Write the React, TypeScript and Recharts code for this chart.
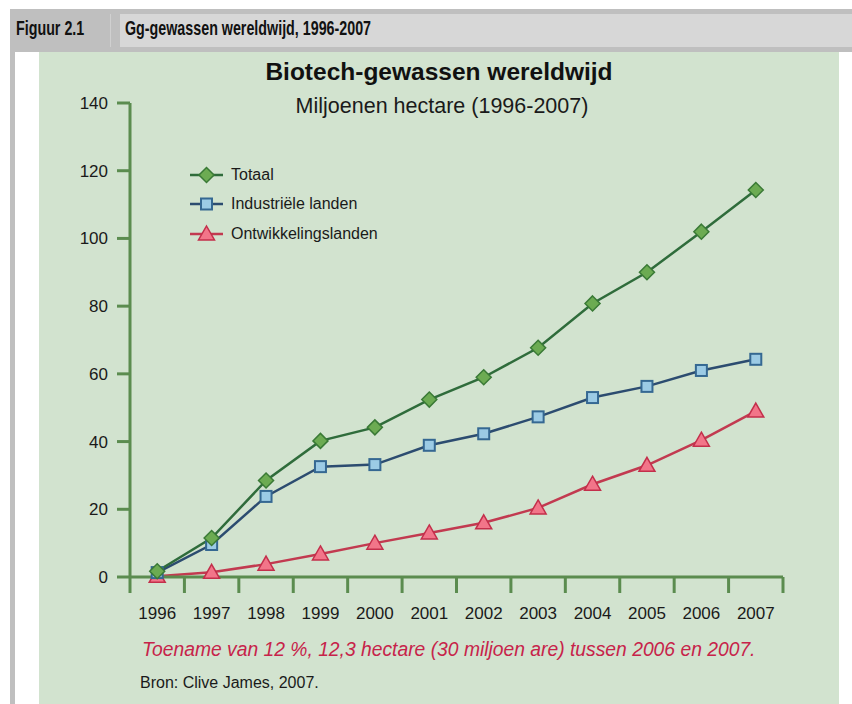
import React from "react";
import { LineChart, Line, XAxis, YAxis } from "recharts";

const years = [1996, 1997, 1998, 1999, 2000, 2001, 2002, 2003, 2004, 2005, 2006, 2007];
const totaal = [1.7, 11.5, 28.5, 40.2, 44.2, 52.4, 59.0, 67.7, 80.8, 90.0, 102.0, 114.3];
const industrieel = [1.3, 9.6, 23.8, 32.6, 33.2, 38.9, 42.3, 47.3, 53.0, 56.3, 61.0, 64.3];
const ontwikkeling = [0.2, 1.4, 3.8, 6.8, 10.0, 13.0, 16.0, 20.4, 27.4, 33.0, 40.4, 49.0];
const yTicks = [0, 20, 40, 60, 80, 100, 120, 140];

const rows = years.map((year, i) => ({
  year,
  totaal: totaal[i],
  industrieel: industrieel[i],
  ontwikkeling: ontwikkeling[i],
}));
// tick marks sit between the years
const edges = [...years.map((y) => y - 0.5), years[years.length - 1] + 0.5];

const AXIS = "#5b8c4f";
const SANS = "'Liberation Sans', Arial, sans-serif";
const BAND = 653 / 12;

const series = {
  totaal: { name: "Totaal", line: "#2f6c3b", fill: "#6cab52", stroke: "#3a7a36", shape: "diamond" },
  industrieel: { name: "Industriële landen", line: "#2c4c70", fill: "#9ccbe5", stroke: "#356892", shape: "square" },
  ontwikkeling: { name: "Ontwikkelingslanden", line: "#c23a50", fill: "#f27589", stroke: "#c32f4b", shape: "triangle" },
};

function Marker({ shape, cx, cy, fill, stroke }: any) {
  if (shape === "diamond") {
    const r = 7.5;
    return <polygon points={`${cx},${cy - r} ${cx + r},${cy} ${cx},${cy + r} ${cx - r},${cy}`} fill={fill} stroke={stroke} strokeWidth={1.5} />;
  }
  if (shape === "square") {
    return <rect x={cx - 5.5} y={cy - 5.5} width={11} height={11} fill={fill} stroke={stroke} strokeWidth={2} />;
  }
  return <polygon points={`${cx},${cy - 8} ${cx + 8},${cy + 6} ${cx - 8},${cy + 6}`} fill={fill} stroke={stroke} strokeWidth={1.5} />;
}

function dotFor(key: keyof typeof series) {
  const s = series[key];
  return (p: any) => (
    <g key={`${key}-${p.index}`}>
      <Marker shape={s.shape} cx={p.cx} cy={p.cy} fill={s.fill} stroke={s.stroke} />
    </g>
  );
}

function XTick({ x, y, payload }: any) {
  const v = payload.value;
  if (v > years[years.length - 1]) return <g />;
  return (
    <text x={x + BAND / 2} y={y + 24} textAnchor="middle" fontSize={17} fill="#1a1a1a" fontFamily={SANS}>
      {String(Math.round(v + 0.5))}
    </text>
  );
}

function LegendBox() {
  return (
    <div style={{ position: "absolute", left: 189, top: 160, fontFamily: SANS, fontSize: 16, color: "#1a1a1a" }}>
      {(Object.keys(series) as (keyof typeof series)[]).map((k) => {
        const s = series[k];
        return (
          <div key={k} style={{ display: "flex", alignItems: "center", height: 29.5 }}>
            <svg width={36} height={20} style={{ marginRight: 6 }}>
              <line x1={1} y1={10} x2={34} y2={10} stroke={s.line} strokeWidth={2.5} />
              <Marker shape={s.shape} cx={17.5} cy={10} fill={s.fill} stroke={s.stroke} />
            </svg>
            <span>{s.name}</span>
          </div>
        );
      })}
    </div>
  );
}

export default function App() {
  return (
    <div style={{ position: "absolute", left: 0, top: 0, width: 852, height: 704, background: "#fff", overflow: "hidden" }}>
      {/* frame and header */}
      <div style={{ position: "absolute", left: 10, top: 9, width: 842, height: 43, background: "#bfbfbf" }} />
      <div style={{ position: "absolute", left: 10, top: 52, width: 5, height: 652, background: "#bfbfbf" }} />
      <div style={{ position: "absolute", left: 110, top: 14, width: 1, height: 33, background: "#d0d0d0" }} />
      <div style={{ position: "absolute", left: 120, top: 14, width: 732, height: 33, background: "#d7d7d7" }} />
      <div style={{ position: "absolute", left: 39, top: 52, width: 800, height: 652, background: "#d2e3cf" }} />
      <div style={{ position: "absolute", left: 16, top: 16, fontFamily: SANS, fontWeight: 700, fontSize: 21, color: "#111", transform: "scaleX(0.68)", transformOrigin: "left top", whiteSpace: "nowrap" }}>
        Figuur 2.1
      </div>
      <div style={{ position: "absolute", left: 125, top: 16, fontFamily: SANS, fontWeight: 700, fontSize: 21, color: "#111", transform: "scaleX(0.68)", transformOrigin: "left top", whiteSpace: "nowrap" }}>
        Gg-gewassen wereldwijd, 1996-2007
      </div>

      {/* titles */}
      <div style={{ position: "absolute", left: 39, width: 800, top: 58, textAlign: "center", fontFamily: SANS, fontWeight: 700, fontSize: 24.5, color: "#111" }}>
        Biotech-gewassen wereldwijd
      </div>
      <div style={{ position: "absolute", left: 39, width: 806, top: 94, textAlign: "center", fontFamily: SANS, fontSize: 21.5, color: "#1a1a1a" }}>
        Miljoenen hectare (1996-2007)
      </div>

      <div style={{ position: "absolute", left: 0, top: 0 }}>
        <LineChart width={852} height={704} data={rows} margin={{ top: 103, right: 69, left: 0, bottom: 0 }}>
          <XAxis
            dataKey="year"
            type="number"
            domain={[edges[0], edges[edges.length - 1]]}
            ticks={edges}
            interval={0}
            height={127}
            tickSize={16}
            tickMargin={2}
            axisLine={{ stroke: AXIS, strokeWidth: 3 }}
            tickLine={{ stroke: AXIS, strokeWidth: 3 }}
            tick={<XTick />}
          />
          <YAxis
            type="number"
            domain={[0, 140]}
            ticks={yTicks}
            interval={0}
            width={130}
            tickSize={13}
            tickMargin={9}
            axisLine={{ stroke: AXIS, strokeWidth: 3 }}
            tickLine={{ stroke: AXIS, strokeWidth: 3 }}
            tick={{ fontSize: 17, fill: "#1a1a1a", fontFamily: SANS }}
          />
          <Line dataKey="ontwikkeling" name={series.ontwikkeling.name} stroke={series.ontwikkeling.line} strokeWidth={2.5} dot={dotFor("ontwikkeling")} isAnimationActive={false} />
          <Line dataKey="industrieel" name={series.industrieel.name} stroke={series.industrieel.line} strokeWidth={2.5} dot={dotFor("industrieel")} isAnimationActive={false} />
          <Line dataKey="totaal" name={series.totaal.name} stroke={series.totaal.line} strokeWidth={2.5} dot={dotFor("totaal")} isAnimationActive={false} />
        </LineChart>
      </div>

      <LegendBox />

      {/* notes */}
      <div style={{ position: "absolute", left: 142, top: 639, fontFamily: SANS, fontStyle: "italic", fontSize: 19.3, color: "#c7234a", whiteSpace: "nowrap" }}>
        Toename van 12 %, 12,3 hectare (30 miljoen are) tussen 2006 en 2007.
      </div>
      <div style={{ position: "absolute", left: 140, top: 674, fontFamily: SANS, fontSize: 16, color: "#1a1a1a", whiteSpace: "nowrap" }}>
        Bron: Clive James, 2007.
      </div>
    </div>
  );
}
